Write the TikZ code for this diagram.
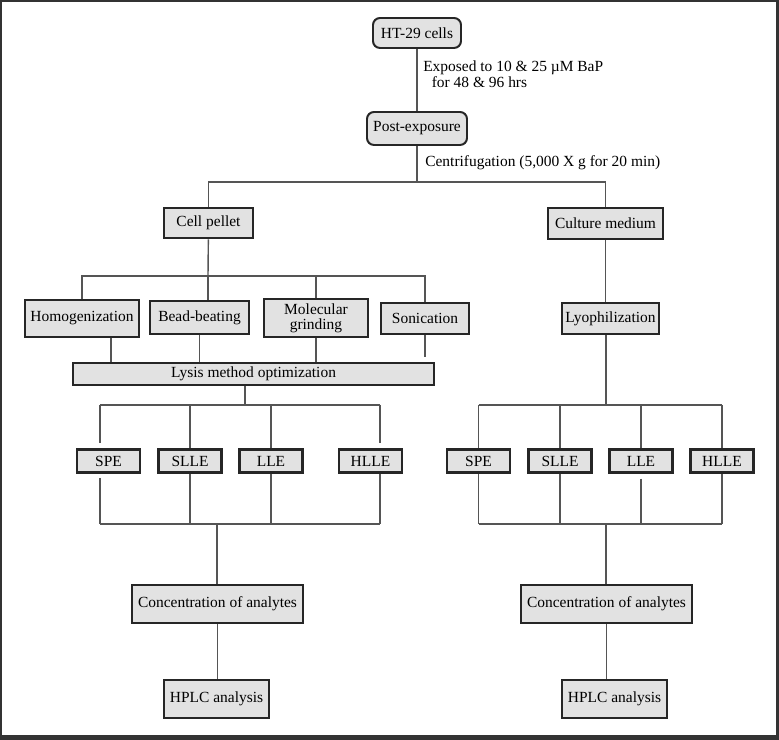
\documentclass[tikz,border=0pt]{standalone}
\usepackage{fontspec}
\setmainfont{Liberation Serif}
\usetikzlibrary{positioning,calc}
\definecolor{boxgray}{RGB}{226,226,226}
\definecolor{linegray}{RGB}{85,85,85}

\begin{document}
\begin{tikzpicture}[
    x=0.025cm, y=-0.025cm,
    font=\fontsize{11pt}{13pt}\selectfont,
    box/.style={draw=black!85, line width=1.8pt, fill=boxgray, inner sep=0pt, align=center},
    rbox/.style={box, rounded corners=5pt, line width=1.4pt},
    ebox/.style={box, minimum width=1.575cm, minimum height=0.575cm},
    link/.style={draw=linegray, line width=1pt},
    note/.style={anchor=west, align=left, inner sep=0pt},
]

% Frame
\useasboundingbox (0,0) rectangle (779,740);
\fill[black!80] (0,0) rectangle (779,740);
\fill[white] (2.5,2) rectangle (775.5,735.5);

% Nodes top-to-bottom
\node[rbox, minimum width=2.2cm, minimum height=0.75cm] (ht) at (417,33) {HT-29 cells};
\node[rbox, minimum width=2.5cm, minimum height=0.825cm] (post) at (417,128.5) {Post-exposure};
\node[box, minimum width=2.225cm, minimum height=0.75cm] (pellet) at (208.5,223) {Cell pellet};
\node[box, minimum width=2.875cm, minimum height=0.775cm] (medium) at (605.5,223.5) {Culture medium};

% Lysis methods
\node[box, minimum width=2.85cm, minimum height=0.925cm] (homog) at (82,318.5) {Homogenization};
\node[box, minimum width=2.475cm, minimum height=0.825cm] (bead) at (199.5,317.5) {Bead-beating};
\node[box, minimum width=2.6cm, minimum height=0.95cm, font=\fontsize{11pt}{10.6pt}\selectfont] (grind) at (316,318) {Molecular\\grinding};
\node[box, minimum width=2.2cm, minimum height=0.775cm] (sonic) at (425,318.5) {Sonication};
\node[box, minimum width=9.025cm, minimum height=0.55cm] (lysis) at (253.5,374) {Lysis method optimization};
\node[box, minimum width=2.425cm, minimum height=0.775cm] (lyo) at (610.5,318.5) {Lyophilization};

% Extraction boxes
\foreach \n/\t/\x in {spe1/SPE/108.5, slle1/SLLE/190, lle1/LLE/271, hlle1/HLLE/370.5,
                      spe2/SPE/478.5, slle2/SLLE/560, lle2/LLE/641, hlle2/HLLE/722}
  \node[ebox] (\n) at (\x,461) {\t};

\node[box, minimum width=4.275cm, minimum height=0.95cm] (conc1) at (217.5,604) {Concentration of analytes};
\node[box, minimum width=4.275cm, minimum height=0.95cm] (conc2) at (606.5,604) {Concentration of analytes};
\node[box, minimum width=2.625cm, minimum height=0.95cm] (hplc1) at (216.5,699) {HPLC analysis};
\node[box, minimum width=2.625cm, minimum height=0.95cm] (hplc2) at (614.5,699) {HPLC analysis};

% Step notes
\node[note, font=\fontsize{11pt}{11.5pt}\selectfont] (expo) at (423,74) {Exposed to 10 \& 25 µM BaP\\\hspace{0.55em}for 48 \& 96 hrs};
\node[note] (centri) at (425,163) {Centrifugation (5,000 X g for 20 min)};

% Top part
\draw[link] (ht) -- (post);
\coordinate (split) at (417,182);
\draw[link] (post) -- (split);
\draw[link] (pellet) |- (split) -| (medium);

% Cell pellet branch
\coordinate (lysplit) at (208,276);
\draw[link] (pellet) -- (lysplit);
\draw[link] (homog) |- (lysplit) -| (sonic);
\draw[link] (lysplit) -- (lysplit |- bead.north);
\draw[link] (grind) -- (grind |- lysplit);
\draw[link] ($(homog.south)+(29,0)$) coordinate (h1) -- (h1 |- lysis.north);
\draw[link] (bead) -- (lysis.north -| bead);
\draw[link] (grind) -- (lysis.north -| grind);
\draw[link, shorten >=3.5pt] (sonic) -- (lysis.north -| sonic);

% Extraction, cell pellet
\coordinate (exA) at (245,405);
\coordinate (exL) at (100,405);
\coordinate (exR) at (380,405);
\draw[link] (lysis.south -| exA) -- (exA);
\draw[link] (exL) -- (exR);
\draw[link, shorten >=3.5pt] (exL) -- (exL |- spe1.north);
\draw[link] (slle1) -- (slle1 |- exA);
\draw[link] (lle1) -- (lle1 |- exA);
\draw[link, shorten >=3.5pt] (exR) -- (exR |- hlle1.north);
\coordinate (coA) at (217,524);
\draw[link] (exL |- coA) -- (exR |- coA);
\draw[link, shorten <=3pt] (exL |- spe1.south) -- (exL |- coA);
\draw[link] (slle1) -- (slle1 |- coA);
\draw[link] (lle1) -- (lle1 |- coA);
\draw[link] (exR |- hlle1.south) -- (exR |- coA);
\draw[link] (coA) -- (coA |- conc1.north);
\draw[link] (conc1) -- (conc1 |- hplc1.north);

% Culture medium branch
\draw[link] (medium) -- (lyo.north -| medium);
\coordinate (exB) at (606,405);
\draw[link] (lyo.south -| exB) -- (exB);
\draw[link] (spe2 |- exB) -- (hlle2 |- exB);
\foreach \n in {spe2,slle2,lle2,hlle2}
  \draw[link] (\n) -- (\n |- exB);
\coordinate (coB) at (606,524);
\draw[link] (spe2 |- coB) -- (hlle2 |- coB);
\draw[link] (spe2) -- (spe2 |- coB);
\draw[link] (slle2) -- (slle2 |- coB);
\draw[link, shorten <=3.5pt] (lle2.south) -- (lle2 |- coB);
\draw[link] (hlle2) -- (hlle2 |- coB);
\draw[link] (coB) -- (coB |- conc2.north);
\draw[link] (conc2) -- (conc2 |- hplc2.north);

\end{tikzpicture}
\end{document}
